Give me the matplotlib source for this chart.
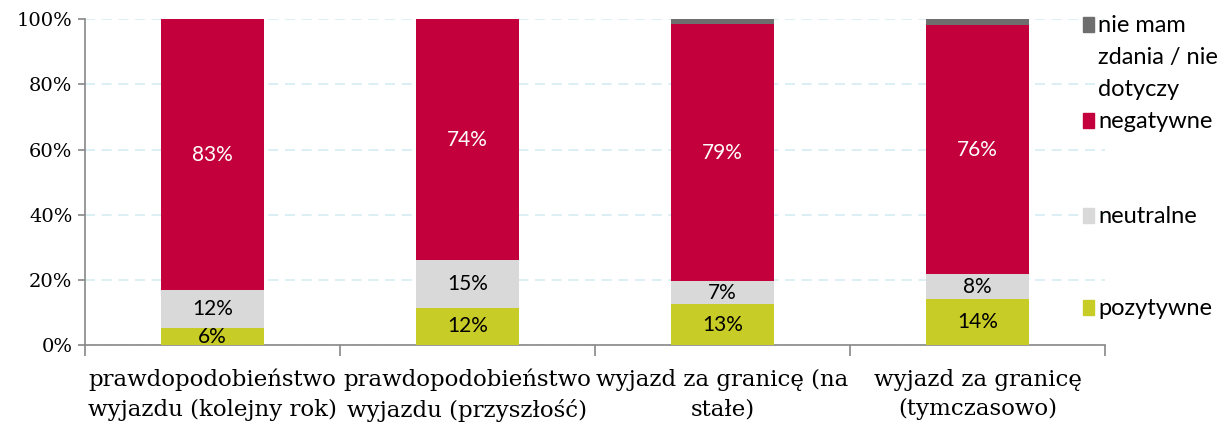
import numpy as np
import matplotlib.pyplot as plt
from matplotlib.patches import Rectangle

categories = ['prawdopodobieństwo\nwyjazdu (kolejny rok)',
              'prawdopodobieństwo\nwyjazdu (przyszłość)',
              'wyjazd za granicę (na\nstałe)',
              'wyjazd za granicę\n(tymczasowo)']

# segment heights (%)
pozytywne = [5.1, 11.5, 12.6, 14.0]
neutralne = [11.8, 14.6, 7.0, 7.7]
negatywne = [83.1, 73.9, 78.8, 76.5]
nie_mam = [0.0, 0.0, 1.6, 1.8]

# printed labels
poz_labels = [6, 12, 13, 14]
neu_labels = [12, 15, 7, 8]
neg_labels = [83, 74, 79, 76]

series_names = ['pozytywne', 'neutralne', 'negatywne', 'nie mam\nzdania / nie\ndotyczy']
colors = ['#c8cc26', '#d9d9d9', '#c4003c', '#6e6e6e']

serif = 'DejaVu Serif'
sans = 'Lato'

fig = plt.figure(figsize=(12.26, 4.25), dpi=100)
ax = fig.add_axes([0.0693, 0.188, 0.8320, 0.767])

x = np.arange(len(categories))
width = 0.405
bottom = np.zeros(len(categories))
series = [pozytywne, neutralne, negatywne, nie_mam]
labels = [poz_labels, neu_labels, neg_labels, None]
txt_colors = ['black', 'black', 'white', None]
for vals, col, lab, tc in zip(series, colors, labels, txt_colors):
    vals = np.array(vals)
    ax.bar(x, vals, width, bottom=bottom, color=col, zorder=3)
    if lab is not None:
        for xi, b, v, l in zip(x, bottom, vals, lab):
            ax.text(xi, b + v / 2, f'{l}%', ha='center', va='center',
                    fontsize=15, color=tc, family=sans, zorder=4)
    bottom = bottom + vals

ax.set_xlim(-0.5, 3.5)
ax.set_ylim(0, 100)
ax.set_yticks(np.arange(0, 101, 20))
ax.set_yticklabels([f'{v}%' for v in range(0, 101, 20)], family=serif, fontsize=14)
ax.set_xticks(x)
ax.set_xticklabels(categories, family=serif, fontsize=16.5, linespacing=1.45)
ax.set_xticks(np.arange(-0.5, 4, 1), minor=True)
ax.tick_params(axis='x', which='major', length=0, pad=17)
ax.tick_params(axis='x', which='minor', length=8, color='#888888', width=1.2)
ax.tick_params(axis='y', length=5, color='#888888', width=1.2, pad=4)

ax.grid(axis='y', color='#d4ecf3', linestyle=(0, (6, 4)), linewidth=1.2, zorder=0)
for s in ['top', 'right']:
    ax.spines[s].set_visible(False)
ax.spines['left'].set_color('#888888')
ax.spines['bottom'].set_color('#888888')
ax.spines['left'].set_linewidth(1.2)
ax.spines['bottom'].set_linewidth(1.2)

# legend, drawn by hand to match the spread-out layout
leg_y = [305, 213, 118, 22]
for name, col, yy in zip(series_names, colors, leg_y):
    fy = 1 - yy / 425
    fig.patches.append(Rectangle((1083 / 1226, fy - 10 / 425), 11 / 1226, 15 / 425,
                                 color=col, transform=fig.transFigure))
    fig.text(1098 / 1226, fy + 7 / 425, name, ha='left', va='top', fontsize=17,
             family=sans, linespacing=1.65)

fig.savefig('out.png', dpi=100)
